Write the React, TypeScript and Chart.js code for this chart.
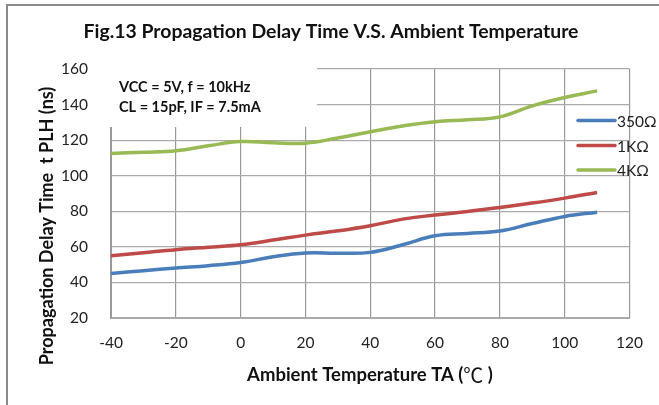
import React, { useEffect, useRef } from "react";
import { Chart, registerables } from "chart.js";

Chart.register(...registerables);

const temps = [-40, -30, -20, -10, 0, 10, 20, 30, 40, 50, 60, 70, 80, 90, 100, 110];
const series350 = [45, 46.6, 48.1, 49.4, 51.2, 54.4, 56.5, 56.4, 56.9, 61.2, 66.2, 67.5, 68.9, 73.1, 77.1, 79.5];
const series1k = [55, 56.7, 58.4, 59.8, 61.2, 63.8, 66.6, 69, 71.9, 75.6, 77.9, 79.9, 82.1, 84.6, 87.4, 90.6];
const series4k = [112.5, 113.2, 114, 116.8, 119.2, 118.5, 118.3, 121.2, 124.7, 128, 130.4, 131.4, 133.1, 139.3, 144, 147.7];
const seriesNames = ["350\u03A9", "1K\u03A9", "4K\u03A9"];
const seriesColors = ["#4a7ebb", "#be4b48", "#98b954"];
const titleText = "Fig.13 Propagation Delay Time V.S. Ambient Temperature";
const xTitle = "Ambient Temperature TA (";
const xTitleUnit = "\u2103";
const yTitle = "Propagation Delay Time  t PLH (ns)";
const noteLines = ["VCC = 5V, f = 10kHz", "CL = 15pF, IF = 7.5mA"];

const FONT = "Lato, 'Open Sans', sans-serif";

const decorPlugin = {
  id: "decor",
  beforeDatasetsDraw(chart: any) {
    const ctx = chart.ctx;
    const a = chart.chartArea;
    ctx.save();
    ctx.fillStyle = "#ffffff";
    ctx.fillRect(a.left - 3, a.top - 4, 317 - a.left + 3, 127 - a.top + 4);
    ctx.fillStyle = "#111";
    ctx.font = `bold 14.5px ${FONT}`;
    ctx.textAlign = "left";
    ctx.textBaseline = "middle";
    ctx.fillText(noteLines[0], 119, 87);
    ctx.fillText(noteLines[1], 119, 107);
    ctx.restore();
  },
  afterDatasetsDraw(chart: any) {
    const ctx = chart.ctx;
    ctx.save();
    const ys = [120.5, 145.5, 170];
    for (let i = 0; i < 3; i++) {
      ctx.strokeStyle = seriesColors[i];
      ctx.lineWidth = 3.5;
      ctx.lineCap = "round";
      ctx.beginPath();
      ctx.moveTo(578, ys[i]);
      ctx.lineTo(615, ys[i]);
      ctx.stroke();
      ctx.fillStyle = "#222";
      ctx.font = `15.5px ${FONT}`;
      ctx.textAlign = "left";
      ctx.textBaseline = "middle";
      ctx.fillText(seriesNames[i], 617, ys[i] + 1);
    }
    ctx.restore();
  },
  afterDraw(chart: any) {
    const ctx = chart.ctx;
    ctx.save();
    ctx.strokeStyle = "#8a8a8a";
    ctx.lineWidth = 2;
    ctx.beginPath();
    ctx.moveTo(7, 405);
    ctx.lineTo(7, 5);
    ctx.lineTo(659, 5);
    ctx.stroke();
    ctx.fillStyle = "#111";
    ctx.font = `bold 19.4px ${FONT}`;
    ctx.textAlign = "center";
    ctx.textBaseline = "middle";
    ctx.fillText(titleText, 331, 32);
    const bf = `bold 18.5px ${FONT}`;
    const uf = `20px 'Noto Sans CJK SC', sans-serif`;
    ctx.font = bf;
    const w1 = ctx.measureText(xTitle).width;
    ctx.font = uf;
    const w2 = ctx.measureText(xTitleUnit).width;
    ctx.font = bf;
    const w3 = ctx.measureText(" )").width;
    const total = w1 + w2 + w3;
    const x0 = 370 - total / 2;
    ctx.textAlign = "left";
    ctx.fillText(xTitle, x0, 375);
    ctx.font = uf;
    ctx.fillText(xTitleUnit, x0 + w1, 375);
    ctx.font = bf;
    ctx.fillText(" )", x0 + w1 + w2, 375);
    ctx.translate(47, 226);
    ctx.rotate(-Math.PI / 2);
    ctx.textAlign = "center";
    ctx.font = `bold 18px ${FONT}`;
    ctx.fillText(yTitle, 0, 0);
    ctx.restore();
  },
};

export default function App() {
  const ref = useRef<HTMLCanvasElement | null>(null);
  useEffect(() => {
    document.body.style.margin = "0";
    const canvas = ref.current!;
    const mk = (vals: number[]) => temps.map((t, i) => ({ x: t, y: vals[i] }));
    const all = [series350, series1k, series4k];
    const chart = new Chart(canvas, {
      type: "line",
      data: {
        datasets: all.map((vals, i) => ({
          label: seriesNames[i],
          data: mk(vals),
          borderColor: seriesColors[i],
          backgroundColor: seriesColors[i],
          borderWidth: 3.5,
          pointRadius: 0,
          tension: 0.4,
          fill: false,
        })),
      },
      options: {
        animation: false,
        responsive: false,
        devicePixelRatio: 1,
        layout: { padding: { left: 0, top: 69, right: 29, bottom: 0 } },
        plugins: {
          legend: { display: false },
          title: { display: false },
          tooltip: { enabled: false },
        },
        scales: {
          x: {
            type: "linear",
            min: -40,
            max: 120,
            ticks: {
              stepSize: 20,
              padding: 16,
              color: "#222",
              font: { family: FONT, size: 15.5 },
            },
            grid: { color: "#999", lineWidth: 1.2, drawTicks: false },
            border: { color: "#aaa", width: 2 },
            afterFit: (s: any) => {
              s.height = 87;
            },
          },
          y: {
            min: 20,
            max: 160,
            ticks: {
              stepSize: 20,
              padding: 23,
              color: "#222",
              font: { family: FONT, size: 15.5 },
            },
            grid: { color: "#aaa", lineWidth: 1.2, drawTicks: false },
            border: { color: "#999", width: 2 },
            afterFit: (s: any) => {
              s.width = 111;
            },
          },
        },
      },
      plugins: [decorPlugin],
    });
    return () => chart.destroy();
  }, []);
  return (
    <div style={{ width: 659, height: 405 }}>
      <canvas ref={ref} width={659} height={405} style={{ display: "block", width: 659, height: 405 }} />
    </div>
  );
}
